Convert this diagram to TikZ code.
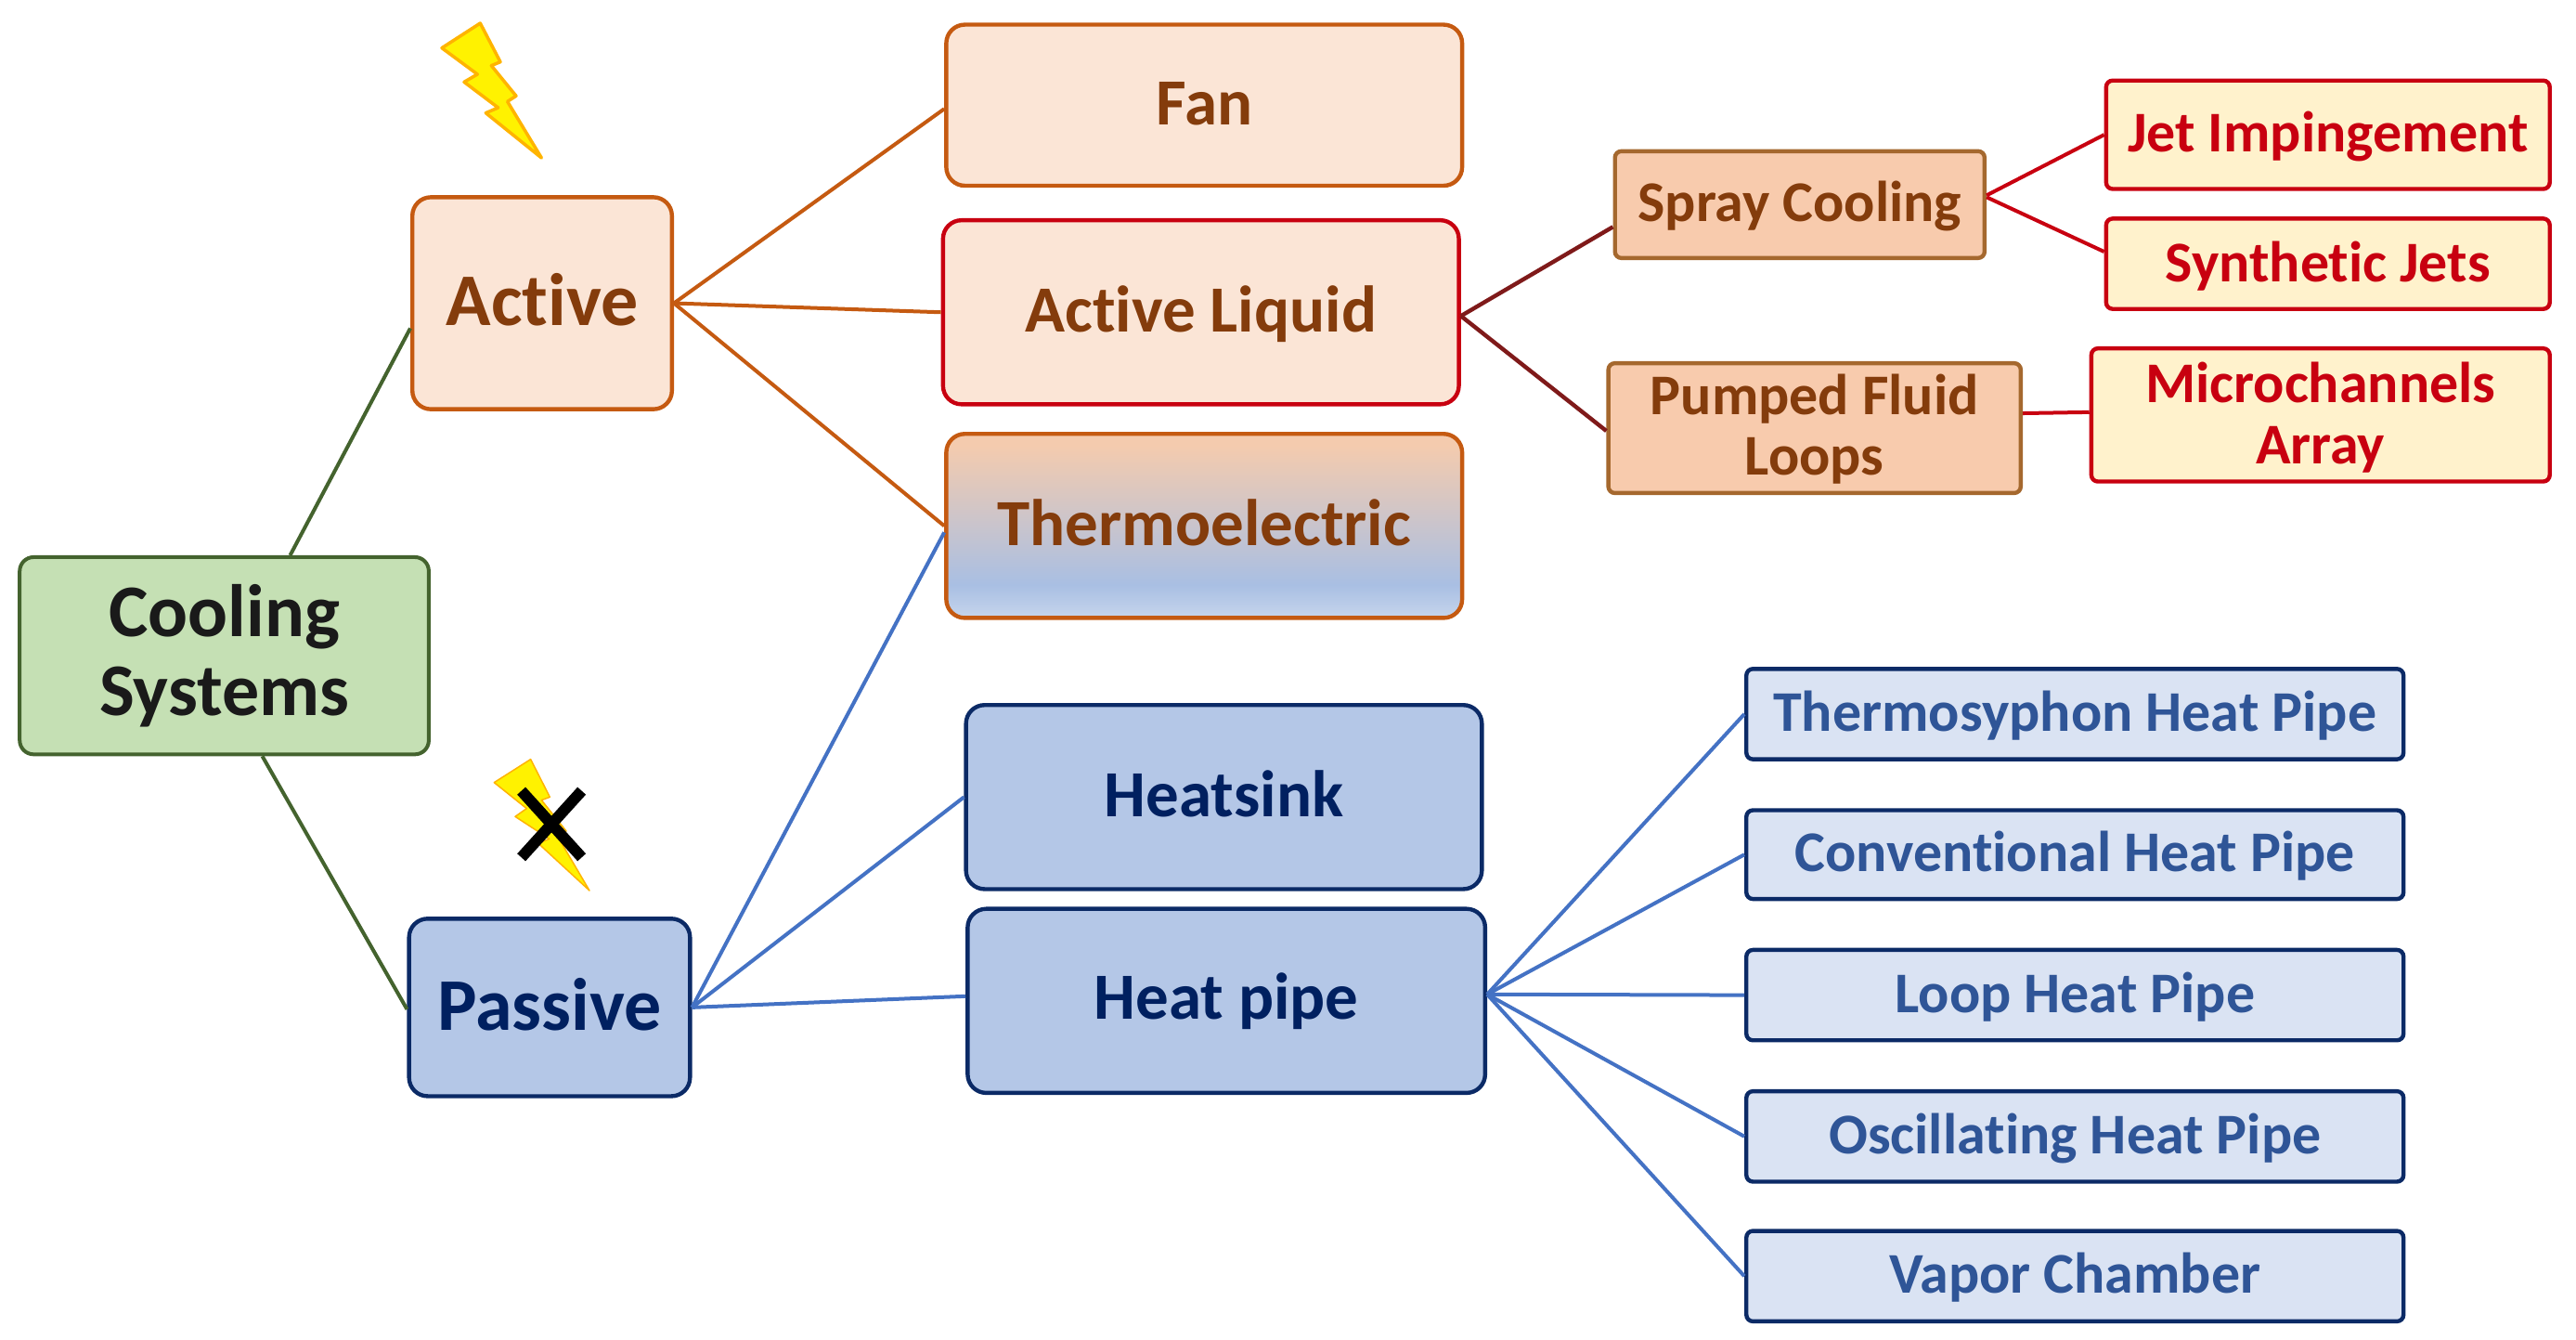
\documentclass[tikz,border=0pt]{standalone}
\usepackage{fontspec}
\setmainfont[Ligatures=NoCommon]{Carlito}
\usetikzlibrary{calc}
\definecolor{gfill}{HTML}{C5E0B4}\definecolor{gline}{HTML}{44632E}\definecolor{gtext}{HTML}{1A1A1A}
\definecolor{ofill}{HTML}{FBE5D6}\definecolor{oline}{HTML}{C55A11}\definecolor{otext}{HTML}{843C0C}
\definecolor{rline}{HTML}{C80010}\definecolor{dred}{HTML}{7F1A1A}
\definecolor{sfill}{HTML}{F8CBAD}\definecolor{sline}{HTML}{A5682E}
\definecolor{yfill}{HTML}{FFF2CC}
\definecolor{bfill}{HTML}{B4C7E7}\definecolor{bline}{HTML}{0B2A66}\definecolor{btext}{HTML}{002060}
\definecolor{cfill}{HTML}{DAE3F3}\definecolor{ctext}{HTML}{2F5597}\definecolor{conn}{HTML}{4472C4}
\definecolor{tt}{HTML}{F4CBAE}\definecolor{tb}{HTML}{A9BFE3}\definecolor{tbb}{HTML}{C6D5EC}
\definecolor{boltline}{HTML}{FFB400}
\pgfdeclareverticalshading{thermoshade}{100bp}{color(0bp)=(tbb); color(25bp)=(tbb); color(34bp)=(tb); color(72bp)=(tt); color(100bp)=(tt)}
\tikzset{
  bx/.style={draw,rounded corners=#1,inner sep=0pt,align=center},
  bx/.default=16pt,
  root/.style={bx=15pt,fill=gfill,draw=gline,text=gtext,line width=4pt},
  main/.style={bx=20pt,fill=ofill,draw=oline,text=otext,line width=4.4pt},
  mainr/.style={bx=20pt,fill=ofill,draw=rline,text=otext,line width=4.4pt},
  thermo/.style={bx=20pt,shading=thermoshade,draw=oline,text=otext,line width=4.4pt},
  spray/.style={bx=7pt,fill=sfill,draw=sline,text=otext,line width=4.4pt},
  leafr/.style={bx=7pt,fill=yfill,draw=rline,text=rline,line width=4.4pt},
  pass/.style={bx=20pt,fill=bfill,draw=bline,text=btext,line width=4.4pt},
  leafb/.style={bx=7pt,fill=cfill,draw=bline,text=ctext,line width=4.4pt},
  lnO/.style={draw=oline,line width=4pt},
  lnB/.style={draw=conn,line width=4pt},
  lnG/.style={draw=gline,line width=4pt},
  lnR/.style={draw=rline,line width=4pt},
  lnD/.style={draw=dred,line width=4.4pt},
  bolt/.style={fill=yellow,draw=boltline,line join=round},
}
\newcommand{\up}[2]{\raisebox{#1}[\height][\depth]{#2}}
\newcommand{\bxn}[8]{%
  \pgfmathsetmacro\bw{(#5-#3)*1.7698}\pgfmathsetmacro\bh{(#6-#4)*1.7698}\pgfmathsetmacro\bl{#7*1.07}%
  \node[#2,minimum width=\bw pt,minimum height=\bh pt,font=\bfseries\fontsize{#7}{\bl}\selectfont] (#1) at ({(#3+#5)/2},{(#4+#6)/2}) {#8};}
\begin{document}
\begin{tikzpicture}[x=1.7698pt,y=-1.7698pt]
\useasboundingbox (0,0) rectangle (1568,815.35);
\bxn{cool}{root}{12}{339}{261}{459}{80}{Cooling\\Systems}
\bxn{active}{main}{251}{120}{409}{249}{80}{\up{3.5pt}{Active}}
\bxn{passive}{pass}{249}{559}{420}{667}{80}{\up{3.5pt}{Passive}}
\bxn{fan}{main}{576}{15}{890}{113}{71}{\up{2pt}{Fan}}
\bxn{liquid}{mainr}{574}{134}{888}{246}{71}{\up{-1.5pt}{Active Liquid}}
\bxn{therm}{thermo}{576}{264}{890}{376}{71}{\up{3.5pt}{Thermoelectric}}
\bxn{sprayc}{spray}{983}{92}{1208}{157}{62}{\up{-1.8pt}{Spray Cooling}}
\bxn{pump}{spray}{979}{221}{1230}{300}{62}{\up{-1.8pt}{Pumped Fluid}\\Loops}
\bxn{jet}{leafr}{1282}{49}{1552}{115}{62}{\up{-1.8pt}{Jet Impingement}}
\bxn{synth}{leafr}{1282}{133}{1552}{188}{62}{\up{-3pt}{Synthetic Jets}}
\bxn{micro}{leafr}{1273}{212}{1552}{293}{62}{\up{-3pt}{Microchannels}\\\up{-3pt}{Array}}
\bxn{sink}{pass}{588}{429}{902}{541}{71}{\up{3.5pt}{Heatsink}}
\bxn{pipe}{pass}{589}{553}{904}{665}{71}{Heat pipe}
\bxn{thsy}{leafb}{1063}{407}{1463}{462}{62}{\up{-1.8pt}{Thermosyphon Heat Pipe}}
\bxn{conv}{leafb}{1063}{493}{1463}{547}{62}{\up{-1.8pt}{Conventional Heat Pipe}}
\bxn{loop}{leafb}{1063}{578}{1463}{633}{62}{\up{-1.8pt}{Loop Heat Pipe}}
\bxn{osc}{leafb}{1063}{664}{1463}{719}{62}{\up{-1.8pt}{Oscillating Heat Pipe}}
\bxn{vap}{leafb}{1063}{749}{1463}{804}{62}{\up{-1.8pt}{Vapor Chamber}}
% connectors
\draw[lnG] ([xshift=71pt]cool.north) -- ([yshift=-27pt]active.west);
\draw[lnG] ([xshift=41pt]cool.south) -- ([yshift=-2pt]passive.west);
\draw[lnO] (active.east) -- ([yshift=-4pt]fan.west);
\draw[lnO] (active.east) -- (liquid.west);
\draw[lnO] (active.east) -- (therm.west);
\draw[lnB] (passive.east) -- ([yshift=-7pt]therm.west);
\draw[lnB] (passive.east) -- (sink.west);
\draw[lnB] (passive.east) -- ([yshift=5pt]pipe.west);
\draw[lnD] ([yshift=-4pt]liquid.east) -- ([yshift=-24pt]sprayc.west);
\draw[lnD] ([yshift=-4pt]liquid.east) -- ([yshift=-3pt]pump.west);
\draw[lnR] ([yshift=10pt]sprayc.east) -- (jet.west);
\draw[lnR] ([yshift=8pt]sprayc.east) -- ([yshift=13pt]synth.west);
\draw[lnR] ([yshift=16pt]pump.east) -- ([yshift=3pt]micro.west);
\foreach \t in {thsy,conv,loop,osc,vap}
  \draw[lnB] ([yshift=7pt]pipe.east) -- (\t.west);
% bolts
\begin{scope}[x=0.3333pt,y=-0.3333pt,shift={(400pt,0pt)}]
\draw[bolt,line width=3.5pt] (352,75)--(417,200)--(388,212)--(468,310)--(440,328)--(550,510)--(370,365)--(410,348)--(300,265)--(343,240)--(228,155)--cycle;
\end{scope}
\begin{scope}[x=0.3333pt,y=-0.3333pt,shift={(480pt,-780pt)}]
\draw[bolt,line width=1.5pt] (275,113)--(337,235)--(310,245)--(390,345)--(362,362)--(465,537)--(300,385)--(335,370)--(225,298)--(262,272)--(157,188)--cycle;
\draw[black,line width=12pt] (245,215)--(440,430) (440,215)--(245,430);
\end{scope}
\end{tikzpicture}
\end{document}
